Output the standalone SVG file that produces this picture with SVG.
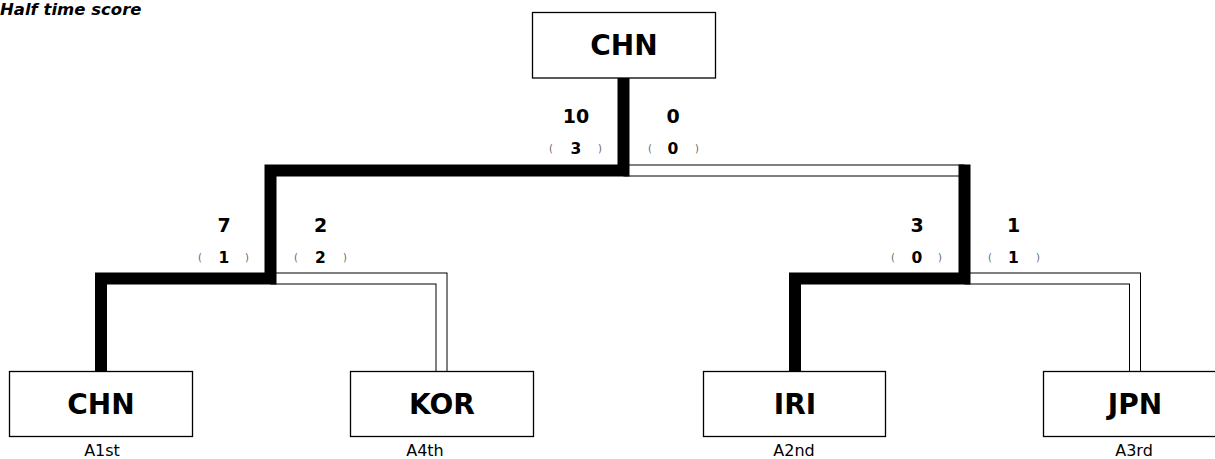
<svg xmlns="http://www.w3.org/2000/svg" width="1215" height="459" viewBox="0 0 1215 459">
<style>
.box{fill:#fff;stroke:#000;stroke-width:1.3}
.team{font-family:"DejaVu Sans",Verdana,sans-serif;font-weight:bold;font-size:28px;text-anchor:middle;fill:#000}
.seed{font-family:"DejaVu Sans",Verdana,sans-serif;font-size:16px;text-anchor:middle;fill:#000}
.score{font-family:"DejaVu Sans",Verdana,sans-serif;font-weight:bold;font-size:19px;text-anchor:middle;fill:#000}
.half{font-family:"DejaVu Sans",Verdana,sans-serif;font-weight:bold;font-size:15.5px;text-anchor:middle;fill:#000}
.p{font-weight:normal;font-size:10px;fill:#666}
.win{fill:none;stroke:#000;stroke-width:12;stroke-linejoin:miter}
.loseo{fill:none;stroke:#000;stroke-width:12;stroke-linejoin:miter}
.losei{fill:none;stroke:#fff;stroke-width:10;stroke-linejoin:miter}
.title{font-family:"DejaVu Sans",Verdana,sans-serif;font-weight:bold;font-style:italic;font-size:16.5px;fill:#000}
</style>
<rect width="1215" height="459" fill="#fff"/>
<text class="title" x="0" y="15">Half time score</text>
<g id="connectors">
  <path class="loseo" d="M623.5,170.5 H964.5"/>
  <path class="losei" d="M623.5,170.5 H964.5"/>
  <path class="loseo" d="M270.5,278.5 H441.5 V371"/>
  <path class="losei" d="M270.5,278.5 H441.5 V371"/>
  <path class="loseo" d="M964.5,278.5 H1135 V371"/>
  <path class="losei" d="M964.5,278.5 H1135 V371"/>
  <path class="win" d="M101,371 V278.5 H270.5 V170.5 H623.5 V78"/>
  <path class="win" d="M795,371 V278.5 H964.5 V164.5"/>
</g>
<g id="node-final">
  <rect class="box" x="532.5" y="12.5" width="183" height="65.5"/>
  <text class="team" x="624" y="55">CHN</text>
</g>
<g id="node-chn">
  <rect class="box" x="9.5" y="371.5" width="183" height="65"/>
  <text class="team" x="101" y="414">CHN</text>
  <text class="seed" x="102" y="456">A1st</text>
</g>
<g id="node-kor">
  <rect class="box" x="350.5" y="371.5" width="183" height="65"/>
  <text class="team" x="442" y="414">KOR</text>
  <text class="seed" x="425" y="456">A4th</text>
</g>
<g id="node-iri">
  <rect class="box" x="703.5" y="371.5" width="182" height="65"/>
  <text class="team" x="795" y="414">IRI</text>
  <text class="seed" x="794" y="456">A2nd</text>
</g>
<g id="node-jpn">
  <rect class="box" x="1043.5" y="371.5" width="183" height="65"/>
  <text class="team" x="1135" y="414">JPN</text>
  <text class="seed" x="1134" y="456">A3rd</text>
</g>
<g id="scores">
  <text class="score" x="576" y="123">10</text>
  <text class="half" y="154"><tspan class="p" x="551" y="152">(</tspan><tspan x="576" y="154">3</tspan><tspan class="p" x="600" y="152">)</tspan></text>
  <text class="score" x="673" y="123">0</text>
  <text class="half" y="154"><tspan class="p" x="650" y="152">(</tspan><tspan x="673" y="154">0</tspan><tspan class="p" x="697" y="152">)</tspan></text>
  <text class="score" x="224" y="231.5">7</text>
  <text class="half" y="262.5"><tspan class="p" x="200" y="260.5">(</tspan><tspan x="224" y="262.5">1</tspan><tspan class="p" x="247" y="260.5">)</tspan></text>
  <text class="score" x="320.5" y="231.5">2</text>
  <text class="half" y="262.5"><tspan class="p" x="296" y="260.5">(</tspan><tspan x="320.5" y="262.5">2</tspan><tspan class="p" x="345" y="260.5">)</tspan></text>
  <text class="score" x="917" y="231.5">3</text>
  <text class="half" y="262.5"><tspan class="p" x="893" y="260.5">(</tspan><tspan x="917" y="262.5">0</tspan><tspan class="p" x="940" y="260.5">)</tspan></text>
  <text class="score" x="1013.5" y="231.5">1</text>
  <text class="half" y="262.5"><tspan class="p" x="990" y="260.5">(</tspan><tspan x="1013.5" y="262.5">1</tspan><tspan class="p" x="1038" y="260.5">)</tspan></text>
</g>
</svg>
